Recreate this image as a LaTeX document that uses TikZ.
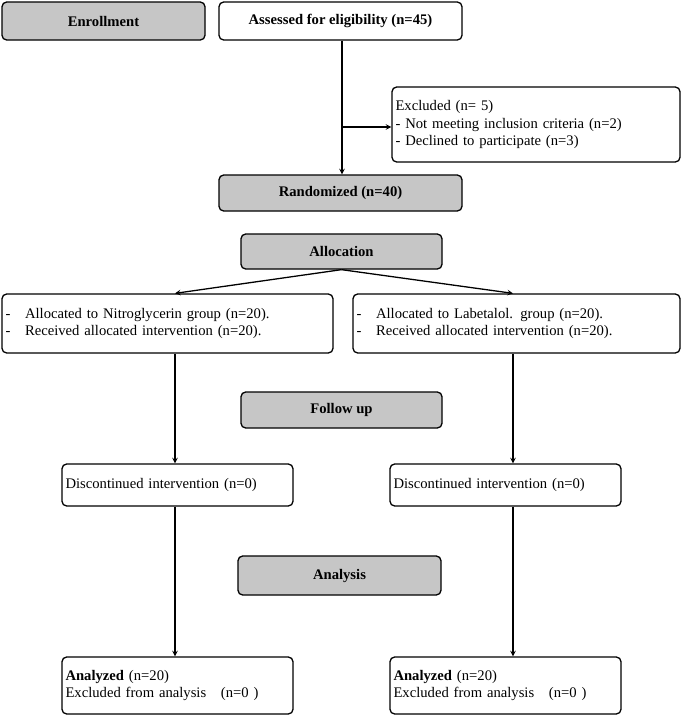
\documentclass[tikz,border=0pt]{standalone}
\usepackage{fontspec}
\setmainfont{Liberation Serif}
\usetikzlibrary{positioning}
\tikzset{
  box/.style={draw, line width=1.1pt, rounded corners=4pt, fill=white, inner sep=3pt, font=\fontsize{12.5}{15}\selectfont},
  stage/.style={box, fill=gray!45, font=\fontsize{12.5}{15}\selectfont\bfseries},
  arr/.style={->, line width=1.1pt, >=stealth}
}
\begin{document}
\begin{tikzpicture}[x=0.03cm,y=-0.03cm]
  \useasboundingbox (0,0) rectangle (685,716);
  % stage labels
  \node[stage, minimum width=203*0.03cm, minimum height=38*0.03cm] (enrol) at (103.5,21) {Enrollment};
  \node[stage, minimum width=243*0.03cm, minimum height=36*0.03cm] (rand) at (340.5,193) {Randomized (n=40)};
  \node[stage, minimum width=201*0.03cm, minimum height=35*0.03cm] (alloc) at (341.5,251.5) {Allocation};
  \node[stage, minimum width=201*0.03cm, minimum height=36*0.03cm] (follow) at (341.5,410) {Follow up};
  \node[stage, minimum width=203*0.03cm, minimum height=39*0.03cm] (anal) at (339.5,575.5) {Analysis};

  % boxes
  \node[box, font=\fontsize{12.5}{15}\selectfont\bfseries, minimum width=243*0.03cm, minimum height=38*0.03cm] (assess) at (340.5,21) {Assessed for eligibility (n=45)};
  \node[box, align=left, text width=288*0.03cm-6pt, minimum height=75*0.03cm] (excl) at (536,124.5)
    {Excluded (n= 5)\\- Not meeting inclusion criteria (n=2)\\- Declined to participate (n=3)};
  \node[box, align=left, text width=331*0.03cm-6pt, minimum height=59*0.03cm] (allocL) at (167.5,323.5)
    {-\quad Allocated to Nitroglycerin group (n=20).\\-\quad Received allocated intervention (n=20).};
  \node[box, align=left, text width=327*0.03cm-6pt, minimum height=59*0.03cm] (allocR) at (516.5,323.5)
    {-\quad Allocated to Labetalol. group (n=20).\\-\quad Received allocated intervention (n=20).};
  \node[box, align=left, text width=231*0.03cm-6pt, minimum height=42*0.03cm] (discL) at (177.5,485) {Discontinued intervention (n=0)};
  \node[box, align=left, text width=231*0.03cm-6pt, minimum height=42*0.03cm] (discR) at (505.5,485) {Discontinued intervention (n=0)};
  \node[box, align=left, text width=231*0.03cm-6pt, minimum height=57*0.03cm] (anaL) at (177.5,685.5)
    {\textbf{Analyzed} (n=20)\\Excluded from analysis\quad (n=0 )};
  \node[box, align=left, text width=231*0.03cm-6pt, minimum height=57*0.03cm] (anaR) at (505.5,685.5)
    {\textbf{Analyzed} (n=20)\\Excluded from analysis\quad (n=0 )};

  % connectors
  \coordinate (split) at (342,127);
  \draw[arr] (assess.south -| split) -- (rand.north -| split);
  \draw[arr] (split) -- (excl.west |- split);
  \draw[arr] (alloc.south) -- (allocL.north -| 175,0);
  \draw[arr] (alloc.south) -- (allocR.north -| 513,0);
  \draw[arr] (allocL.south -| 175,0) -- (discL.north -| 175,0);
  \draw[arr] (allocR.south -| 513,0) -- (discR.north -| 513,0);
  \draw[arr] (discL.south -| 175,0) -- (anaL.north -| 175,0);
  \draw[arr] (discR.south -| 513,0) -- (anaR.north -| 513,0);
\end{tikzpicture}
\end{document}
